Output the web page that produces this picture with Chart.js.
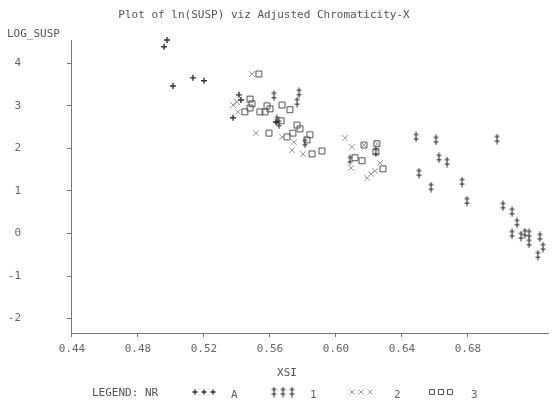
<!DOCTYPE html>
<html><head><meta charset="utf-8">
<script src="https://cdn.jsdelivr.net/npm/chart.js@4"></script>
<style>html,body{margin:0;padding:0;background:#fff}#wrap{width:560px;height:404px}</style>
</head><body><div id="wrap"><canvas id="c" width="560" height="404"></canvas></div>
<script>
const titleText = 'Plot of ln(SUSP) viz Adjusted Chromaticity-X';
const yTitle = 'LOG_SUSP';
const xTitle = 'XSI';
const legendTitle = 'LEGEND: NR';
const xTicks = [0.44, 0.48, 0.52, 0.56, 0.60, 0.64, 0.68];
const yTicks = [-2, -1, 0, 1, 2, 3, 4];
const seriesNames = ['A', '1', '2', '3'];

const aX = [0.4976, 0.4958, 0.5012, 0.5133, 0.5200, 0.5376, 0.5412, 0.5424, 0.5636];
const aY = [4.55, 4.39, 3.47, 3.66, 3.59, 2.72, 3.26, 3.14, 2.62];

const oneX = [0.5624, 0.5776, 0.5764, 0.5642, 0.5655, 0.5812, 0.6085, 0.6242, 0.6485, 0.6606, 0.6976, 0.6624, 0.6673, 0.6503, 0.6764, 0.6576, 0.6794, 0.7012, 0.7067, 0.7097, 0.7067, 0.7121, 0.7145, 0.7170, 0.7170, 0.7236, 0.7255, 0.7224];
const oneY = [3.24, 3.31, 3.09, 2.67, 2.58, 2.13, 1.73, 1.92, 2.27, 2.20, 2.22, 1.78, 1.68, 1.42, 1.21, 1.09, 0.76, 0.65, 0.51, 0.25, -0.01, -0.06, 0.01, -0.01, -0.22, -0.08, -0.32, -0.51];

const twoX = [0.5491, 0.5400, 0.5376, 0.5406, 0.5515, 0.5673, 0.5745, 0.5733, 0.5800, 0.6055, 0.6097, 0.6170, 0.6248, 0.6267, 0.6091, 0.6188, 0.6212, 0.6236];
const twoY = [3.75, 3.09, 3.02, 2.86, 2.36, 2.27, 2.15, 1.96, 1.87, 2.25, 2.04, 2.08, 2.11, 1.66, 1.54, 1.31, 1.40, 1.47];

const threeX = [0.5533, 0.5479, 0.5491, 0.5448, 0.5479, 0.5539, 0.5570, 0.5582, 0.5600, 0.5673, 0.5721, 0.5667, 0.5764, 0.5782, 0.5594, 0.5703, 0.5739, 0.5842, 0.5824, 0.5855, 0.5915, 0.6115, 0.6158, 0.6170, 0.6248, 0.6242, 0.6285];
const threeY = [3.75, 3.16, 3.05, 2.86, 2.95, 2.86, 2.86, 3.00, 2.93, 3.02, 2.91, 2.65, 2.55, 2.46, 2.36, 2.27, 2.36, 2.32, 2.20, 1.87, 1.94, 1.78, 1.71, 2.08, 2.11, 1.92, 1.52];

function pts(xs, ys){ return xs.map((x,i)=>({x:x, y:ys[i]})); }

// double-dagger marker
const dd = document.createElement('canvas');
dd.width = 9; dd.height = 11;
(function(){
  const g = dd.getContext('2d');
  g.strokeStyle = '#333'; g.lineWidth = 1.2;
  g.beginPath();
  g.moveTo(4.5, 0.5); g.lineTo(4.5, 10.5);
  g.moveTo(2, 3); g.lineTo(7, 3);
  g.moveTo(2, 7.5); g.lineTo(7, 7.5);
  g.stroke();
})();

const styles = [
  {pointStyle:'cross', radius:3, color:'#333', width:1.4},
  {pointStyle:dd, radius:4, color:'#333', width:1.2},
  {pointStyle:'crossRot', radius:4, color:'#9a9a9a', width:1},
  {pointStyle:'rect', radius:4.2, color:'#555', width:1}
];
const dataSets = [pts(aX,aY), pts(oneX,oneY), pts(twoX,twoY), pts(threeX,threeY)];

const font = '"DejaVu Sans Mono", monospace';
const axisColor = '#777';

const textPlugin = {
  id: 'txt',
  afterDraw(chart){
    const ctx = chart.ctx;
    ctx.save();
    ctx.font = '11px ' + font;
    ctx.fillStyle = '#555';
    ctx.textBaseline = 'middle';
    ctx.textAlign = 'center';
    ctx.fillText(titleText, 264, 15);
    ctx.textAlign = 'left';
    ctx.fillText(yTitle, 7, 34);
    ctx.textAlign = 'center';
    ctx.fillText(xTitle, 287, 373);
    ctx.textAlign = 'left';
    ctx.fillText(legendTitle, 92, 393);
    const sx = [195, 274, 352, 432];
    const lx = [231, 310, 394, 471];
    styles.forEach((s, i) => {
      for (let k = 0; k < 3; k++) {
        ctx.save();
        ctx.strokeStyle = s.color; ctx.fillStyle = 'rgba(0,0,0,0)'; ctx.lineWidth = s.width;
        Chart.helpers.drawPoint(ctx, {pointStyle: s.pointStyle, radius: s.radius*0.85, rotation: 0, borderWidth: s.width}, sx[i] + k*9, 392);
        ctx.restore();
      }
      ctx.fillStyle = '#666';
      ctx.fillText(seriesNames[i], lx[i], 395);
    });
    ctx.restore();
  }
};

new Chart(document.getElementById('c'), {
  type: 'scatter',
  data: {
    datasets: dataSets.map((d, i) => ({
      label: seriesNames[i],
      data: d,
      pointStyle: styles[i].pointStyle,
      pointRadius: styles[i].radius,
      pointBorderColor: styles[i].color,
      pointBackgroundColor: 'rgba(0,0,0,0)',
      pointBorderWidth: styles[i].width,
      borderColor: styles[i].color,
      backgroundColor: 'rgba(0,0,0,0)',
      clip: false
    }))
  },
  options: {
    responsive: false,
    animation: false,
    devicePixelRatio: 1,
    layout: {padding: {left: 0, top: 40, right: 12, bottom: 0}},
    plugins: {legend: {display: false}, title: {display: false}, tooltip: {enabled: false}},
    scales: {
      x: {
        type: 'linear', min: 0.4394, max: 0.7285,
        afterBuildTicks(scale){ scale.ticks = xTicks.map(v => ({value: v})); },
        afterFit(scale){ scale.height = 71; scale.paddingLeft = 0; scale.paddingRight = 0; },
        grid: {drawOnChartArea: false, drawTicks: true, tickLength: 4, color: axisColor},
        border: {display: true, color: axisColor},
        ticks: {padding: 6, color: '#666', font: {family: font, size: 11},
                callback: v => v.toFixed(2), maxRotation: 0, autoSkip: false}
      },
      y: {
        type: 'linear', min: -2.34, max: 4.55,
        afterBuildTicks(scale){ scale.ticks = yTicks.map(v => ({value: v})); },
        afterFit(scale){ scale.width = 71; scale.paddingTop = 0; scale.paddingBottom = 0; },
        grid: {drawOnChartArea: false, drawTicks: true, tickLength: 4, color: axisColor},
        border: {display: true, color: axisColor},
        ticks: {padding: 46, color: '#666', font: {family: font, size: 11},
                callback: v => String(v)}
      }
    }
  },
  plugins: [textPlugin]
});
</script>
</body></html>
